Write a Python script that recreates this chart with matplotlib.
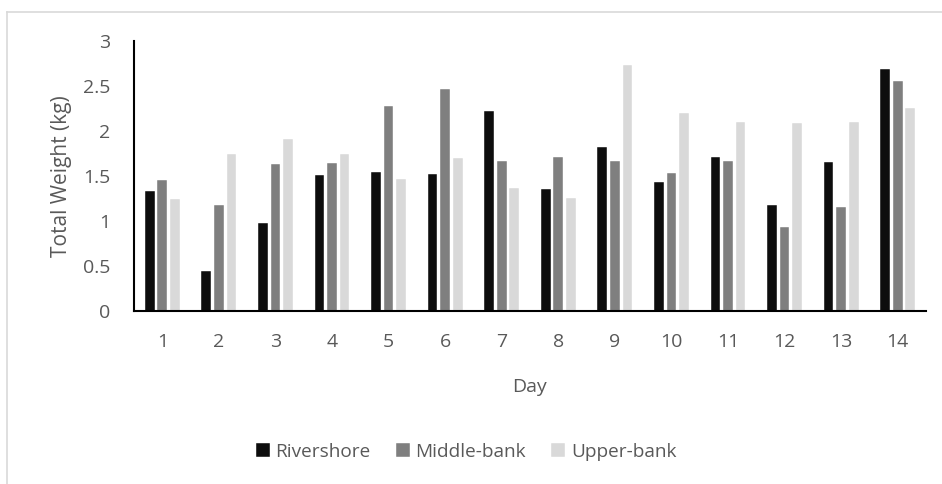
import numpy as np
import matplotlib.pyplot as plt
from matplotlib.lines import Line2D

plt.rcParams['font.family'] = ['Open Sans', 'DejaVu Sans']

days = [str(d) for d in range(1, 15)]
rivershore = [1.33, 0.44, 0.98, 1.51, 1.54, 1.52, 2.22, 1.36, 1.82, 1.43, 1.71, 1.18, 1.66, 2.69]
middle_bank = [1.46, 1.18, 1.63, 1.64, 2.28, 2.47, 1.67, 1.71, 1.67, 1.53, 1.67, 0.93, 1.16, 2.56]
upper_bank = [1.24, 1.75, 1.91, 1.75, 1.47, 1.70, 1.37, 1.26, 2.73, 2.20, 2.10, 2.09, 2.10, 2.26]

series = [('Rivershore', rivershore, '#0d0d0d'),
          ('Middle-bank', middle_bank, '#7f7f7f'),
          ('Upper-bank', upper_bank, '#d9d9d9')]

W, H = 942, 484
fig = plt.figure(figsize=(W / 100, H / 100), dpi=100)
ax = fig.add_axes([134 / W, (H - 311) / H, 792 / W, 270 / H])

x = np.arange(len(days))
step = 0.222
width = 0.17
for i, (name, vals, col) in enumerate(series):
    ax.bar(x + (i - 1) * step, vals, width, color=col, label=name,
           edgecolor='white', linewidth=0.3)

ax.set_xlim(-0.5, len(days) - 0.5)
ax.set_ylim(0, 3)
ax.set_yticks([0, 0.5, 1, 1.5, 2, 2.5, 3])
ax.set_yticklabels(['0', '0.5', '1', '1.5', '2', '2.5', '3'])
ax.set_xticks(x)
ax.set_xticklabels(days)

txt = '#595959'
ax.tick_params(axis='y', length=0, pad=17, labelsize=14, labelcolor=txt)
ax.tick_params(axis='x', length=0, pad=16, labelsize=14, labelcolor=txt)
for s in ['top', 'right']:
    ax.spines[s].set_visible(False)
for s in ['left', 'bottom']:
    ax.spines[s].set_color('black')
    ax.spines[s].set_linewidth(1.5)

ax.set_ylabel('Total Weight (kg)', fontsize=15, color=txt, labelpad=8)
ax.set_xlabel('Day', fontsize=14, color=txt, labelpad=19)

fig.legend(loc='center', bbox_to_anchor=(466 / W, (H - 452) / H), ncol=3,
           frameon=False, fontsize=13.7, labelcolor=txt, handlelength=0.75,
           handleheight=0.75, handletextpad=0.3, columnspacing=1.3)

# outer chart border
border = '#d9d9d9'
fig.add_artist(Line2D([7 / W, 1], [1 - 12 / H, 1 - 12 / H], color=border, lw=1.2))
fig.add_artist(Line2D([7 / W, 7 / W], [0, 1 - 12 / H], color=border, lw=1.2))

fig.savefig('out.png', dpi=100)
